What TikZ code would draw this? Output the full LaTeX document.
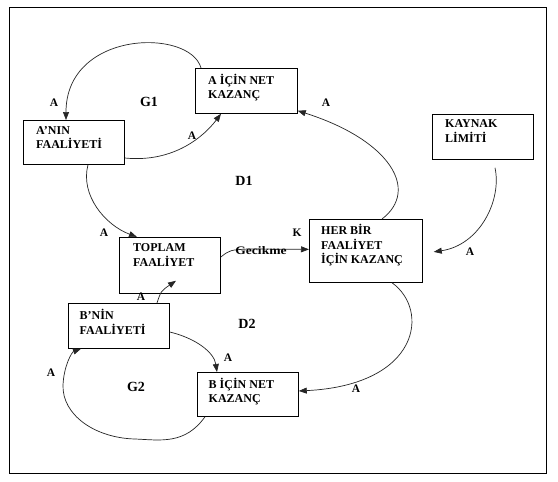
\documentclass[tikz,border=0pt]{standalone}
\usepackage{fontspec}
\setmainfont{Liberation Serif}
\usepackage{graphicx}
\usetikzlibrary{arrows.meta,calc}
\begin{document}
\begin{tikzpicture}[x=1pt,y=-1pt]
\tikzset{
 bx/.style={draw=black, line width=0.75pt, anchor=north west, inner sep=0pt},
 txt/.style={anchor=north west, inner sep=0pt, align=left, font=\fontsize{12}{14.5}\selectfont\bfseries, execute at begin node={\rule{0pt}{11.3pt}}},
 lbl/.style={font=\fontsize{11.5}{13}\selectfont\bfseries, inner sep=0pt},
 big/.style={font=\fontsize{14}{16}\selectfont\bfseries, inner sep=0pt},
 arr/.style={draw=black!85, line width=0.7pt, -{Triangle[length=8pt,width=6pt]}},
}
\useasboundingbox (0,0) rectangle (558,482);
\fill[white] (0,0) rectangle (558,482);
\draw[line width=0.8pt] (9,7) rectangle (546,473);

% boxes
\node[bx, minimum width=102pt, minimum height=45pt] (aK) at (195,68) {};
\node[bx, minimum width=101pt, minimum height=44pt] (aN) at (23,120) {};
\node[bx, minimum width=101pt, minimum height=45pt] (kl) at (432,114) {};
\node[bx, minimum width=113pt, minimum height=63pt] (hb) at (309,219) {};
\node[bx, minimum width=101pt, minimum height=56pt] (tf) at (119,237) {};
\node[bx, minimum width=101pt, minimum height=45pt] (bN) at (68,303) {};
\node[bx, minimum width=101pt, minimum height=44pt] (bK) at (197,372) {};

% box texts
\node[txt] (aKt) at ($(aK.north west)+(13,6)$) {A İÇİN NET\\KAZANÇ};
\node[txt] (aNt) at ($(aN.north west)+(13,6)$) {A’NIN\\FAALİYETİ};
\node[txt] (klt) at ($(kl.north west)+(13,5.5)$) {KAYNAK\\LİMİTİ};
\node[txt] (hbt) at ($(hb.north west)+(12,5.5)$) {HER BİR\\FAALİYET\\İÇİN KAZANÇ};
\node[txt] (tft) at ($(tf.north west)+(14,6.5)$) {TOPLAM\\FAALİYET};
\node[txt] (bNt) at ($(bN.north west)+(11.5,6.5)$) {B’NİN\\FAALİYETİ};
\node[txt] (bKt) at ($(bK.north west)+(11.5,6)$) {B İÇİN NET\\KAZANÇ};

% connectors
\draw[arr] ($(aK.north west)+(6,0)$) .. controls (190,28) and (66,30) .. ($(aN.north west)+(43,0)$);
\draw[arr] ($(aN.north east)+(0,38)$) .. controls (175,163) and (205,135) .. ($(aK.south west)+(26,0)$);
\draw[arr] ($(aN.south west)+(65,0)$) .. controls (80,195) and (105,225) .. ($(tf.north west)+(18,0)$);
\draw[arr] ($(hb.north west)+(73,0)$) .. controls (420,190) and (390,140) .. ($(aK.south east)+(0,-3)$);
\coordinate (k1) at ($(kl.south west)+(63,8)$);
\coordinate (k2) at ($(hb.east)+(11,1)$);
\draw[arr] (k1) .. controls (502,200) and (480,245) .. (k2);
\draw[arr] ($(tf.north east)+(0,20)$) .. controls (230,250) .. (248,249) -- ($(hb.west)+(0,-1.5)$);
\coordinate (t1) at ($(tf.south west)+(57,-13)$);
\draw[arr] ($(bN.north west)+(89,0)$) .. controls (161,291) .. (t1);
\draw[arr] ($(bN.north east)+(0,29)$) .. controls (195,338) and (214,352) .. ($(bK.north west)+(20,0)$);
\draw[arr] ($(hb.south west)+(83,0)$) .. controls (430,310) and (420,385) .. ($(bK.north east)+(0,19)$);
\draw[arr] ($(bK.south west)+(8,0)$) .. controls (185,445) and (160,440) .. (135,439)
  .. controls (95,438) and (62,415) .. (63,385)
  .. controls (64,365) and (72,352) .. ($(bN.south west)+(13,0)$);

% labels
\node[lbl] (la1) at (54,103) {A};
\node[lbl] (la2) at (192,136) {A};
\node[lbl] (la3) at (104,233) {A};
\node[lbl] (lk) at (297,233) {K};
\node[lbl] (gk) at (261,250.5) {\scalebox{1.18}[1]{Gecikme}};
\node[lbl] (la4) at (326,103) {A};
\node[lbl] (la5) at (470,252) {A};
\node[lbl] (la6) at (141,297) {A};
\node[lbl] (la7) at (228,358) {A};
\node[lbl] (la8) at (51,373) {A};
\node[lbl] (la9) at (356,389) {A};
\node[big] (g1) at (149,102) {G1};
\node[big] (d1) at (244,181) {D1};
\node[big] (d2) at (247,324) {D2};
\node[big] (g2) at (136,387) {G2};
\end{tikzpicture}
\end{document}
